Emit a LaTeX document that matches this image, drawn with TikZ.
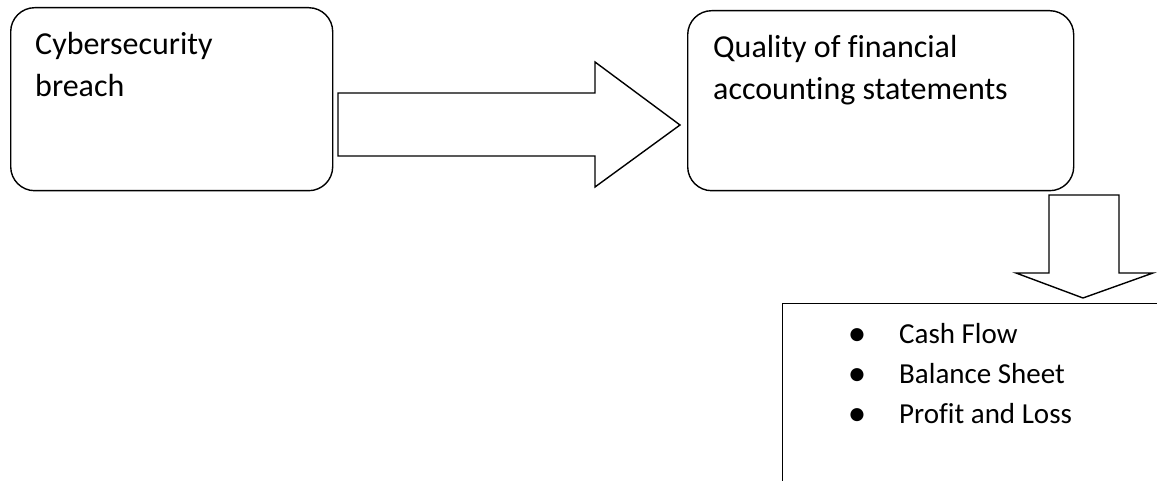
\documentclass[tikz,border=0pt]{standalone}
\usepackage{fontspec}
\setmainfont{Carlito}[Ligatures=NoCommon]
\begin{document}
\begin{tikzpicture}[x=1pt,y=-1pt,
  shp/.style={draw=black, line width=1.4pt, line join=miter},
  rbox/.style={shp, rounded corners=24pt, anchor=north west, inner sep=0pt},
  big/.style={font=\fontsize{32}{41}\selectfont, anchor=base west, inner sep=0pt},
  small/.style={font=\fontsize{29}{40}\selectfont, anchor=base west, inner sep=0pt},
  bul/.style={font=\fontsize{37}{40}\selectfont, anchor=base, inner sep=0pt}]
\useasboundingbox (0,0) rectangle (1157,481);
\clip (0,0) rectangle (1157,481);
% boxes
\node[rbox, minimum width=322pt, minimum height=183pt] (b1) at (10,7) {};
\node[rbox, minimum width=386pt, minimum height=180pt] (b2) at (687,10) {};
\node[shp, anchor=north west, minimum width=420pt, minimum height=230pt, inner sep=0pt] (b3) at (782,303) {};
% texts
\node[big] (t1a) at (35,55) {Cybersecurity};
\node[big] (t1b) at (35,97) {breach};
\node[big] (t2a) at (713,58) {Quality of financial};
\node[big] (t2b) at (713,100) {accounting statements};
\node[bul] (d1) at (857,345) {\textbullet};
\node[bul] (d2) at (857,385) {\textbullet};
\node[bul] (d3) at (857,425) {\textbullet};
\node[small] (l1) at (899,343) {Cash Flow};
\node[small] (l2) at (899,383) {Balance Sheet};
\node[small] (l3) at (899,423) {Profit and Loss};
% block arrows
\draw[shp] (338,93) -- (595,93) -- (595,62) -- (680,125) -- (595,187) -- (595,156) -- (338,156) -- cycle;
\draw[shp] (1049,195) -- (1119,195) -- (1119,273) -- (1153,273) -- (1083,298) -- (1016,273) -- (1049,273) -- cycle;
\end{tikzpicture}
\end{document}
